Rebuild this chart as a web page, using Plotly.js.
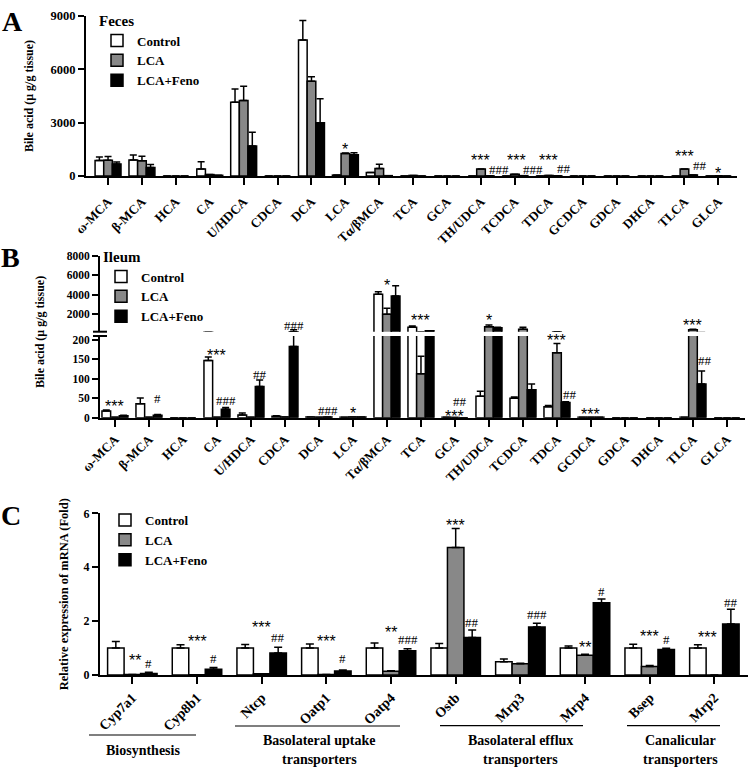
<!DOCTYPE html>
<html><head><meta charset="utf-8">
<script src="https://cdn.plot.ly/plotly-3.0.1.min.js"></script>
<style>html,body{margin:0;padding:0;background:#fff}#wrap{position:relative;width:756px;height:768px;overflow:hidden}.panel{position:absolute;left:0;width:756px}#pA{top:0;height:250px}#pB{top:236px;height:256px}#pC{top:470px;height:298px}</style>
</head><body><div id="wrap"><div id="pA" class="panel"></div><div id="pB" class="panel"></div><div id="pC" class="panel"></div></div>
<script>
// ---------------- DATA ----------------
const acidLabels = ['ω-MCA','β-MCA','HCA','CA','U/HDCA','CDCA','DCA','LCA','Tα/βMCA','TCA','GCA','TH/UDCA','TCDCA','TDCA','GCDCA','GDCA','DHCA','TLCA','GLCA'];
const seriesNames = ['Control','LCA','LCA+Feno'];

// Panel A: feces (μg/g tissue)
const fecesControl   = [870, 900, 0, 400, 4150, 0, 7650, 50, 190, 0, 0, 0, 0, 0, 0, 0, 0, 0, 0];
const fecesControlSD = [200, 280, 0, 400, 750, 0, 1100, 0, 0, 0, 0, 0, 0, 0, 0, 0, 0, 0, 0];
const fecesLCA       = [880, 860, 0, 80, 4250, 0, 5330, 1260, 415, 30, 0, 390, 100, 30, 0, 0, 0, 390, 10];
const fecesLCASD     = [220, 250, 0, 0, 800, 0, 250, 30, 245, 0, 0, 0, 0, 0, 0, 0, 0, 0, 0];
const fecesFeno      = [680, 480, 0, 40, 1690, 0, 2990, 1190, 20, 0, 0, 10, 20, 10, 0, 0, 0, 60, 0];
const fecesFenoSD    = [110, 170, 0, 0, 770, 0, 1350, 120, 0, 0, 0, 0, 0, 0, 0, 0, 0, 0, 0];

// Panel B: ileum (μg/g tissue)
const ileumControl   = [17, 36, 0, 147, 7, 4, 2, 1, 4050, 650, 1, 55, 50, 28.5, 1, 0, 0, 1, 0];
const ileumControlSD = [3, 15, 0, 9, 5, 1, 0, 0, 250, 140, 0, 13, 3, 3, 0, 0, 0, 0, 0];
const ileumLCA       = [1, 1, 0, 1, 1, 2, 1, 2, 1990, 113, 0.5, 710, 450, 167, 1, 0, 0, 400, 0];
const ileumLCASD     = [0, 0, 0, 0, 0, 0, 0, 0, 610, 45, 0, 180, 200, 24, 0, 0, 0, 60, 0];
const ileumFeno      = [5, 6, 0, 22, 80, 183, 2, 2, 3865, 300, 0, 610, 72, 39, 1, 0, 0, 87, 0];
const ileumFenoSD    = [1, 2, 0, 4, 17, 217, 0, 0, 1055, 0, 0, 50, 15, 2, 0, 0, 0, 33, 0];

// Panel C: relative mRNA expression (fold)
const geneLabels  = ['Cyp7a1','Cyp8b1','Ntcp','Oatp1','Oatp4','Ostb','Mrp3','Mrp4','Bsep','Mrp2'];
const mrnaControl   = [1, 1, 1, 1, 1, 1, 0.49, 1, 1, 1];
const mrnaControlSD = [0.24, 0.12, 0.13, 0.15, 0.19, 0.17, 0.10, 0.08, 0.14, 0.12];
const mrnaLCA       = [0.02, 0.01, 0.05, 0.02, 0.14, 4.73, 0.42, 0.73, 0.32, 0.0];
const mrnaLCASD     = [0, 0, 0, 0, 0.02, 0.71, 0.02, 0.04, 0.03, 0];
const mrnaFeno      = [0.06, 0.21, 0.82, 0.15, 0.90, 1.39, 1.78, 2.68, 0.95, 1.89];
const mrnaFenoSD    = [0.04, 0.07, 0.21, 0.04, 0.07, 0.28, 0.14, 0.14, 0.04, 0.55];

// Significance marks: category index, series (0 Control, 1 LCA, 2 LCA+Feno), text
const sigA = [
  {c:7,s:1,t:'*'},{c:11,s:1,t:'***'},{c:11,s:2,t:'###'},{c:12,s:1,t:'***'},{c:12,s:2,t:'###'},
  {c:13,s:1,t:'***'},{c:13,s:2,t:'##'},{c:17,s:1,t:'***'},{c:17,s:2,t:'##'},{c:18,s:1,t:'*'}
];
const sigB = [
  {c:0,s:1,t:'***'},{c:1,s:2,t:'#'},{c:3,s:1,t:'***'},{c:3,s:2,t:'###'},{c:4,s:2,t:'##'},
  {c:5,s:2,t:'###'},{c:6,s:2,t:'###'},{c:7,s:1,t:'*'},{c:8,s:1,t:'*'},{c:9,s:1,t:'***'},
  {c:10,s:1,t:'***'},{c:10,s:2,t:'##'},{c:11,s:1,t:'*'},{c:13,s:1,t:'***'},{c:13,s:2,t:'##'},
  {c:14,s:1,t:'***'},{c:17,s:1,t:'***'},{c:17,s:2,t:'##'}
];
const sigC = [
  {c:0,s:1,t:'**'},{c:0,s:2,t:'#'},{c:1,s:1,t:'***'},{c:1,s:2,t:'#'},{c:2,s:1,t:'***'},{c:2,s:2,t:'##'},
  {c:3,s:1,t:'***'},{c:3,s:2,t:'#'},{c:4,s:1,t:'**'},{c:4,s:2,t:'###'},{c:5,s:1,t:'***'},{c:5,s:2,t:'##'},
  {c:6,s:2,t:'###'},{c:7,s:1,t:'**'},{c:7,s:2,t:'#'},{c:8,s:1,t:'***'},{c:8,s:2,t:'#'},
  {c:9,s:1,t:'***'},{c:9,s:2,t:'##'}
];

// ---------------- STYLE / LAYOUT ----------------
// label placement nudges in px: [lift above bar+error top, horizontal shift, on upper segment (B)]
const nudgeA = [[4,0],[9,-1],[6,9],[13.5,2],[6,9],[15,0],[7,7],[13,0],[9.6,7],[2.5,0]];
const nudgeB = [[10.4,0],[15.6,0],[61.6,0],[6.7,0],[5.4,0],[4.5,0,1],[6.7,0],[3,0],[22.6,0,1],[36,0],
                [1.4,0],[16,-4],[4.3,0,1],[3,0],[7.6,4],[2.6,0],[3.5,0,1],[10.5,3]];
const nudgeC = [[14,3],[9,0],[33,0],[8.5,0],[46,0],[10,0],[32.5,0],[11,0],[38,0],[9,0],[3,0],[7.5,0],
                [9,0],[7,0],[7.5,0],[29,0],[9,0],[37,-7],[7,0]];

const W = 756;
const px = v => v / W;
const panelPy = (top, h) => (v => 1 - (v - top) / h);
const SERIF = 'Liberation Serif';
const fills = ['#ffffff', '#888888', '#000000'];
const BG = 0.235, BW = (1 - BG) / 3;
const bold = (size) => ({family: SERIF, size: size, color: '#000', weight: 'bold'});
const starFont = {family: 'Liberation Sans', size: 16, color: '#000'};
const hashFont = {family: SERIF, size: 13, color: '#000'};

function bars(xs, ys, sds, i, ya, showlegend, capw) {
  return {
    type: 'bar', name: seriesNames[i], x: xs, y: ys, xaxis: 'x', yaxis: ya, showlegend: showlegend,
    marker: {color: fills[i], line: {color: '#000', width: 1.5}},
    error_y: {type: 'data', symmetric: false, array: sds, arrayminus: ys.map(() => 0),
              color: '#000', thickness: 1.5, width: capw},
    hoverinfo: 'skip'
  };
}
function sigAnns(list, nudges, vals, sds, yLo, yHi) {
  return list.map((m, k) => {
    const n = nudges[k];
    return {
      x: m.c + (m.s - 1) * BW, y: vals[m.s][m.c] + sds[m.s][m.c],
      xref: 'x', yref: (n[2] ? yHi : yLo), text: m.t, showarrow: false,
      yanchor: 'middle', xanchor: 'center', yshift: n[0], xshift: n[1],
      borderpad: 0, borderwidth: 0,
      font: m.t.indexOf('*') >= 0 ? starFont : hashFont
    };
  });
}
const paperText = (t, x, y, size, py, extra) => Object.assign({text: t, x: px(x), y: py(y), xref: 'paper', yref: 'paper',
  showarrow: false, xanchor: 'center', yanchor: 'middle', font: bold(size)}, extra || {});
const lineShape = (x0, x1, y0, y1, w, py) => ({type: 'line', xref: 'paper', yref: 'paper',
  x0: px(x0), x1: px(x1), y0: py(y0), y1: py(y1), line: {color: '#000', width: w}});

const axisBase = {showline: true, linecolor: '#000', linewidth: 2, ticks: 'outside', ticklen: 6, tickwidth: 2,
  tickcolor: '#000', showgrid: false, zeroline: false};
const legendBase = {xanchor: 'left', yanchor: 'top', bgcolor: 'rgba(0,0,0,0)', borderwidth: 0,
  font: bold(13), traceorder: 'normal', tracegroupgap: 0, itemwidth: 30};
const baseLayout = (h) => ({width: W, height: h, margin: {l: 0, r: 0, t: 0, b: 0},
  paper_bgcolor: 'rgba(0,0,0,0)', plot_bgcolor: 'rgba(0,0,0,0)', barmode: 'group', bargap: BG, bargroupgap: 0,
  font: {family: SERIF, color: '#000'}, showlegend: true});
const cfg = {displayModeBar: false, staticPlot: true};

// ---- Panel A ----
const fA = [fecesControl, fecesLCA, fecesFeno], eA = [fecesControlSD, fecesLCASD, fecesFenoSD];
const pyA = panelPy(0, 250);
const dataA = [0, 1, 2].map(i => bars(acidLabels, fA[i], eA[i], i, 'y', true, 3.5));
const layoutA = Object.assign(baseLayout(250), {
  xaxis: Object.assign({}, axisBase, {domain: [px(86), px(737)], range: [-0.65, 18.55], anchor: 'y',
    type: 'category', tickangle: -45, tickfont: bold(13), ticklen: 7, ticklabelstandoff: 4}),
  yaxis: Object.assign({}, axisBase, {domain: [pyA(176), pyA(16)], range: [0, 9000], anchor: 'x',
    tickvals: [0, 3000, 6000, 9000], tickfont: bold(12.5),
    title: {text: 'Bile acid (μ g/g tissue)', font: bold(12), standoff: 14}}),
  legend: Object.assign({}, legendBase, {x: px(97), y: pyA(6), title: {text: 'Feces', font: bold(15)}}),
  annotations: sigAnns(sigA, nudgeA, fA, eA, 'y', 'y').concat([paperText('A', 12, 22, 28, pyA)])
});

// ---- Panel B (broken y axis: lower 0–200, upper 200–8000) ----
const fB = [ileumControl, ileumLCA, ileumFeno], eB = [ileumControlSD, ileumLCASD, ileumFenoSD];
const pyB = panelPy(236, 256);
const dataB = [0, 1, 2].map(i => bars(acidLabels, fB[i], eB[i], i, 'y', true, 3.5))
  .concat([0, 1, 2].map(i => bars(acidLabels, fB[i], eB[i], i, 'y2', false, 3.5)));
const layoutB = Object.assign(baseLayout(256), {
  xaxis: Object.assign({}, axisBase, {domain: [px(100), px(745)], range: [-0.44, 18.53], anchor: 'y',
    type: 'category', tickangle: -45, tickfont: bold(13), ticklen: 7}),
  yaxis: Object.assign({}, axisBase, {domain: [pyB(417.7), pyB(336)], range: [0, 210.3], anchor: 'x',
    tickvals: [0, 50, 100, 150, 200], tickfont: bold(11.5)}),
  yaxis2: Object.assign({}, axisBase, {domain: [pyB(331.7), pyB(255.7)], range: [200, 8000], anchor: 'x',
    tickvals: [2000, 4000, 6000, 8000], tickfont: bold(11.5)}),
  legend: Object.assign({}, legendBase, {x: px(101), y: pyB(242), title: {text: 'Ileum', font: bold(15)}}),
  annotations: sigAnns(sigB, nudgeB, fB, eB, 'y', 'y2').concat([
    paperText('B', 10, 257, 28, pyB),
    paperText('Bile acid (μ g/g tissue)', 40, 332, 12, pyB, {textangle: -90})
  ]),
  shapes: [lineShape(93, 107, 331.7, 331.7, 2, pyB), lineShape(93, 107, 336, 336, 2, pyB)]
});

// ---- Panel C ----
const fC = [mrnaControl, mrnaLCA, mrnaFeno], eC = [mrnaControlSD, mrnaLCASD, mrnaFenoSD];
const pyC = panelPy(470, 298);
const dataC = [0, 1, 2].map(i => bars(geneLabels, fC[i], eC[i], i, 'y', true, 4));
const groupText = [
  ['Biosynthesis', 143, 750], ['Basolateral uptake', 319, 740], ['transporters', 319, 759],
  ['Basolateral efflux', 520, 740], ['transporters', 520, 759], ['Canalicular', 680, 740], ['transporters', 680, 759]
];
const layoutC = Object.assign(baseLayout(298), {
  xaxis: Object.assign({}, axisBase, {domain: [px(100), px(748)], range: [-0.5, 9.52], anchor: 'y',
    type: 'category', tickangle: -45, tickfont: bold(14), ticklen: 7}),
  yaxis: Object.assign({}, axisBase, {domain: [pyC(675), pyC(513.3)], range: [0, 6], anchor: 'x',
    tickvals: [0, 2, 4, 6], tickfont: bold(12),
    title: {text: 'Relative expression of mRNA (Fold)', font: bold(12.5), standoff: 12}}),
  legend: Object.assign({}, legendBase, {x: px(105), y: pyC(505)}),
  annotations: sigAnns(sigC, nudgeC, fC, eC, 'y', 'y').concat([paperText('C', 11, 515, 28, pyC)])
    .concat(groupText.map(([t, x, y]) => paperText(t, x, y, 14, pyC))),
  shapes: [lineShape(89, 196, 735, 735, 1.2, pyC), lineShape(235, 400, 726, 726, 1.2, pyC),
           lineShape(440, 583, 725.7, 725.7, 1.2, pyC), lineShape(627, 720, 725.7, 725.7, 1.2, pyC)]
});

Plotly.newPlot('pA', dataA, layoutA, cfg);
Plotly.newPlot('pB', dataB, layoutB, cfg);
Plotly.newPlot('pC', dataC, layoutC, cfg);
</script>
</body></html>
